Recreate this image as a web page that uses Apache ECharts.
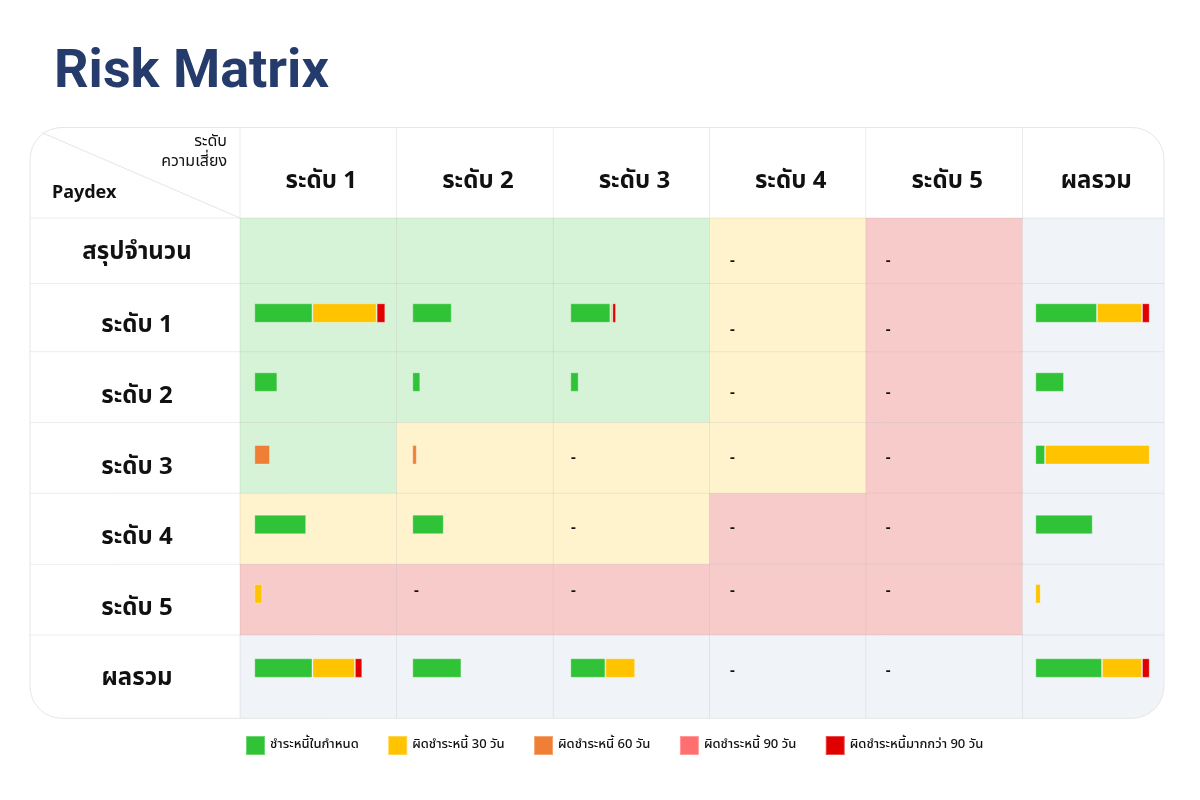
<!DOCTYPE html>
<html><head><meta charset="utf-8">
<script src="https://cdn.jsdelivr.net/npm/echarts@6/dist/echarts.min.js"></script>
<style>html,body{margin:0;padding:0;background:#fff}#main{width:1200px;height:800px}</style>
</head><body><div id="main"></div>
<script>
// ---------- DATA ----------
const titleText = 'Risk Matrix';
const cornerTop = ['ระดับ', 'ความเสี่ยง'];
const cornerBottom = 'Paydex';
const colLabels = ['ระดับ 1', 'ระดับ 2', 'ระดับ 3', 'ระดับ 4', 'ระดับ 5', 'ผลรวม'];
const rowLabels = ['สรุปจำนวน', 'ระดับ 1', 'ระดับ 2', 'ระดับ 3', 'ระดับ 4', 'ระดับ 5', 'ผลรวม'];
const statusNames = ['ชำระหนี้ในกำหนด', 'ผิดชำระหนี้ 30 วัน', 'ผิดชำระหนี้ 60 วัน', 'ผิดชำระหนี้ 90 วัน', 'ผิดชำระหนี้มากกว่า 90 วัน'];
// share of each cell's bar scale (%), rows: ระดับ 1..5, ผลรวม ; cols: ระดับ 1..5, ผลรวม
const onTime = [
  [44.4, 30.1, 30.6, 0, 0, 53.9],
  [17.6, 6.1, 6.4, 0, 0, 25.1],
  [0, 0, 0, 0, 0, 8.5],
  [39.6, 24.0, 0, 0, 0, 50.2],
  [0, 0, 0, 0, 0, 0],
  [44.4, 37.5, 26.8, 0, 0, 58.3]
];
const late30 = [
  [49.0, 0, 1.5, 0, 0, 39.4],
  [0, 0, 0, 0, 0, 0],
  [0, 0, 0, 0, 0, 91.5],
  [0, 0, 0, 0, 0, 0],
  [6.1, 0, 0, 0, 0, 4.7],
  [32.4, 0, 22.7, 0, 0, 35.0]
];
const late60 = [
  [0, 0, 0, 0, 0, 0],
  [0, 0, 0, 0, 0, 0],
  [12.0, 3.4, 0, 0, 0, 0],
  [0, 0, 0, 0, 0, 0],
  [0, 0, 0, 0, 0, 0],
  [0, 0, 0, 0, 0, 0]
];
const late90 = [
  [0, 0, 0, 0, 0, 0],
  [0, 0, 0, 0, 0, 0],
  [0, 0, 0, 0, 0, 0],
  [0, 0, 0, 0, 0, 0],
  [0, 0, 0, 0, 0, 0],
  [0, 0, 0, 0, 0, 0]
];
const late90plus = [
  [6.6, 0, 2.8, 0, 0, 6.7],
  [0, 0, 0, 0, 0, 0],
  [0, 0, 0, 0, 0, 0],
  [0, 0, 0, 0, 0, 0],
  [0, 0, 0, 0, 0, 0],
  [5.6, 0, 0, 0, 0, 6.7]
];
const summaryCells = ['', '', '', '-', '-', ''];
// risk zone of each body cell (row 0 = สรุปจำนวน)
const riskZones = [
  ['low', 'low', 'low', 'mid', 'high', 'sum'],
  ['low', 'low', 'low', 'mid', 'high', 'sum'],
  ['low', 'low', 'low', 'mid', 'high', 'sum'],
  ['low', 'mid', 'mid', 'mid', 'high', 'sum'],
  ['mid', 'mid', 'mid', 'high', 'high', 'sum'],
  ['high', 'high', 'high', 'high', 'high', 'sum'],
  ['sum', 'sum', 'sum', 'sum', 'sum', 'sum']
];

// ---------- STYLE / LAYOUT ----------
const statusColors = ['#31c337', '#ffc300', '#ef7f34', '#ff6f6f', '#e00000'];
const zoneColors = { low: '#d6f3d8', mid: '#fff3cd', high: '#f8cbcb', sum: '#f0f4f9' };
const colX = [30, 240, 396.5, 553.3, 709.5, 865.8, 1022.5, 1164];
const rowY = [127.5, 218, 283.5, 351.7, 422.5, 493.3, 564.3, 635, 718.3];
const barPad = [14.3, 15.8, 17, 17, 17, 12.8];
const barScalePx = [131, 131, 131, 131, 131, 114.4];
const barTopOff = [19.8, 20.6, 22.5, 21.4, 19.7, 23.3];
const barH = 19.5;
const dashY = [262, 331, 394, 459, 529, 592, 672];
const dashPad = [18, 17.5, 17.7, 20.5, 20, 18];
const labelY = [254, 327, 398.5, 468.8, 539.6, 610.5, 680.5];
const headerY = 183;
const R = 32;
const thaiFont = "'Noto Sans Thai', 'Noto Sans', sans-serif";
const lineCol = 'rgba(0,0,0,0.075)';

const statusData = [onTime, late30, late60, late90, late90plus];

const chart = echarts.init(document.getElementById('main'), null, { renderer: 'canvas' });

const graphics = [];
const W = colX[7] - colX[0], H = rowY[8] - rowY[0];
// table base
graphics.push({ type: 'rect', shape: { x: colX[0], y: rowY[0], width: W, height: H, r: R }, style: { fill: '#fff' }, z: 0 });
// body cells
for (let r = 0; r < 7; r++) {
  for (let c = 0; c < 6; c++) {
    const x = colX[c + 1], y = rowY[r + 1];
    const w = colX[c + 2] - x, h = rowY[r + 2] - y;
    const isCorner = (r === 6 && c === 5);
    graphics.push({ type: 'rect', shape: { x, y, width: w, height: h, r: isCorner ? [0, 0, R, 0] : 0 },
      style: { fill: zoneColors[riskZones[r][c]] }, z: 1 });
  }
}
// internal lines
for (let i = 1; i <= 6; i++) {
  graphics.push({ type: 'line', shape: { x1: colX[i], y1: rowY[0], x2: colX[i], y2: rowY[8] }, style: { stroke: lineCol, lineWidth: 1 }, z: 2 });
}
for (let j = 1; j <= 7; j++) {
  graphics.push({ type: 'line', shape: { x1: colX[0], y1: rowY[j], x2: colX[7], y2: rowY[j] }, style: { stroke: lineCol, lineWidth: 1 }, z: 2 });
}
// outer border
graphics.push({ type: 'rect', shape: { x: colX[0], y: rowY[0], width: W, height: H, r: R }, style: { fill: null, stroke: '#e6e6e6', lineWidth: 1 }, z: 3 });
// diagonal
const slope = (rowY[1] - rowY[0]) / (colX[1] - colX[0]);
graphics.push({ type: 'line', shape: { x1: colX[0] + 12, y1: rowY[0] + 12 * slope, x2: colX[1], y2: rowY[1] }, style: { stroke: '#e6e6e6', lineWidth: 1 }, z: 3 });
// title
graphics.push({ type: 'text', x: 54, y: 73, z: 5, style: { text: titleText, fill: '#243b6b', font: "bold 54px Roboto, sans-serif", textVerticalAlign: 'middle' } });
// corner header
graphics.push({ type: 'text', x: 227, y: 143, z: 5, style: { text: cornerTop[0], fill: '#111', font: '16px ' + thaiFont, textAlign: 'right', textVerticalAlign: 'middle' } });
graphics.push({ type: 'text', x: 227, y: 163, z: 5, style: { text: cornerTop[1], fill: '#111', font: '16px ' + thaiFont, textAlign: 'right', textVerticalAlign: 'middle' } });
graphics.push({ type: 'text', x: 52, y: 193, z: 5, style: { text: cornerBottom, fill: '#111', font: "bold 18px 'Noto Sans', sans-serif", textVerticalAlign: 'middle' } });
// column headers
colLabels.forEach((t, c) => {
  graphics.push({ type: 'text', x: (colX[c + 1] + colX[c + 2]) / 2 + 3, y: headerY, z: 5,
    style: { text: t, fill: '#111', font: 'bold 24px ' + thaiFont, textAlign: 'center', textVerticalAlign: 'middle' } });
});
// row labels
rowLabels.forEach((t, r) => {
  graphics.push({ type: 'text', x: (colX[0] + colX[1]) / 2 + 2, y: labelY[r], z: 5,
    style: { text: t, fill: '#111', font: 'bold 24px ' + thaiFont, textAlign: 'center', textVerticalAlign: 'middle' } });
});
// dashes
function addDash(r, c) {
  graphics.push({ type: 'text', x: colX[c + 1] + dashPad[c], y: dashY[r], z: 5,
    style: { text: '-', fill: '#111', font: 'bold 15px ' + thaiFont, textVerticalAlign: 'middle' } });
}
summaryCells.forEach((v, c) => { if (v === '-') addDash(0, c); });

// bars
const grids = [], xAxes = [], yAxes = [], series = [];
for (let r = 0; r < 6; r++) {
  for (let c = 0; c < 6; c++) {
    const vals = statusData.map(m => m[r][c]);
    const total = vals.reduce((a, b) => a + b, 0);
    if (total <= 0) { addDash(r + 1, c); continue; }
    const gi = grids.length;
    grids.push({ left: colX[c + 1] + barPad[c], top: rowY[r + 2] + barTopOff[r], width: barScalePx[c], height: barH, show: false });
    xAxes.push({ type: 'value', gridIndex: gi, min: 0, max: 100, show: false });
    yAxes.push({ type: 'category', gridIndex: gi, data: [rowLabels[r + 1] + ' / ' + colLabels[c]], show: false });
    statusNames.forEach((name, s) => {
      series.push({ type: 'bar', name, stack: 'cell' + gi, xAxisIndex: gi, yAxisIndex: gi, barWidth: '100%',
        data: [vals[s] > 0 ? vals[s] : null],
        itemStyle: { color: statusColors[s], borderColor: 'rgba(255,255,255,0.3)', borderWidth: 1 },
        emphasis: { disabled: true } });
    });
  }
}

chart.setOption({
  animation: false,
  backgroundColor: '#fff',
  grid: grids, xAxis: xAxes, yAxis: yAxes, series,
  legend: { left: 240, top: 730, itemWidth: 19, itemHeight: 19, itemGap: 28.5, icon: 'rect', data: statusNames,
    textStyle: { fontSize: 13, color: '#111', fontWeight: 500, fontFamily: thaiFont } },
  graphic: { elements: graphics }
});
</script></body></html>
